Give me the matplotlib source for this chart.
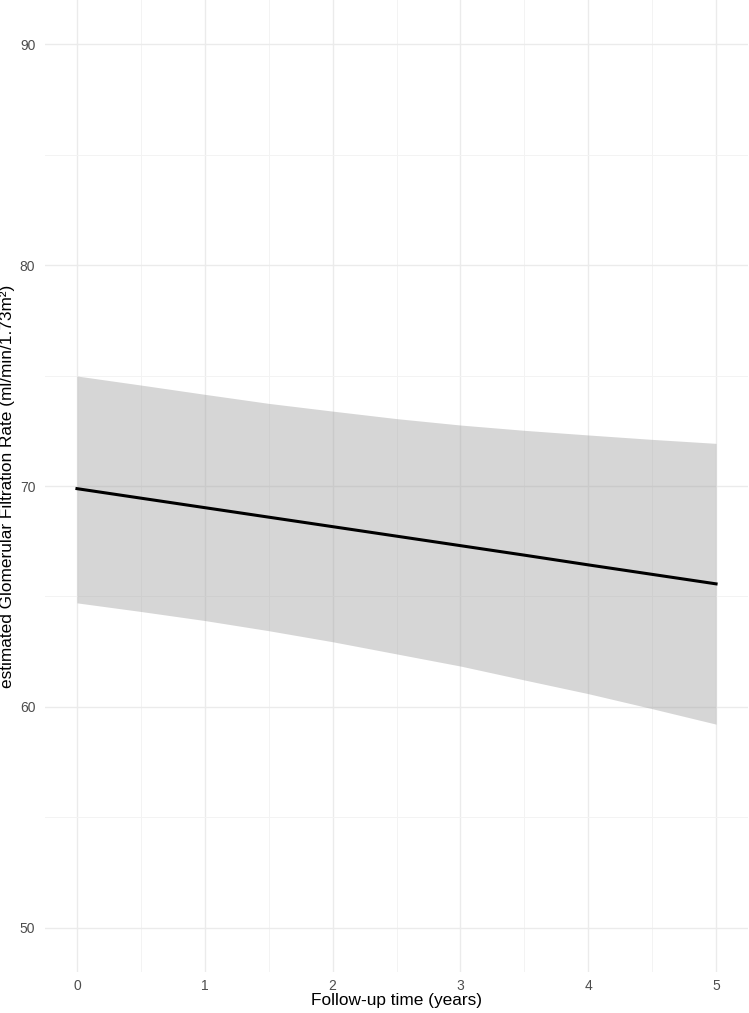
import matplotlib
matplotlib.use("Agg")
import matplotlib.pyplot as plt
import numpy as np

# --- data ---
years = [0, 0.5, 1, 1.5, 2, 2.5, 3, 3.5, 4, 4.5, 5]
egfr_fit = [69.88, 69.45, 69.02, 68.59, 68.16, 67.73, 67.30, 66.87, 66.43, 66.00, 65.57]
egfr_upper = [74.98, 74.57, 74.15, 73.74, 73.39, 73.05, 72.76, 72.52, 72.31, 72.11, 71.93]
egfr_lower = [64.71, 64.32, 63.91, 63.45, 62.95, 62.40, 61.85, 61.22, 60.60, 59.92, 59.22]

x_ticks = [0, 1, 2, 3, 4, 5]
y_ticks = [50, 60, 70, 80, 90]

plt.rcParams["font.family"] = ["Liberation Sans", "DejaVu Sans"]

fig = plt.figure(figsize=(7.49, 10.13), dpi=100)
ax = fig.add_axes([45 / 749, 41 / 1013, 703 / 749, 972 / 1013])

# --- theme_minimal-ish grid ---
ax.set_xlim(-0.25, 5.25)
ax.set_ylim(48, 92)
ax.set_xticks(x_ticks)
ax.set_yticks(y_ticks)
ax.set_xticks(np.arange(0.5, 5, 1), minor=True)
ax.set_yticks([55, 65, 75, 85], minor=True)
ax.grid(which="major", color="#ebebeb", linewidth=1.0)
ax.grid(which="minor", color="#f3f3f3", linewidth=0.7)
ax.set_axisbelow(True)
for s in ax.spines.values():
    s.set_visible(False)
ax.tick_params(which="both", length=0)
ax.tick_params(axis="both", labelsize=10, labelcolor="#4d4d4d")
ax.tick_params(axis="x", pad=5)
ax.tick_params(axis="y", pad=7)

# --- ribbon + fitted line ---
ax.fill_between(years, egfr_lower, egfr_upper, color="#999999", alpha=0.4,
                linewidth=0, zorder=2)
ax.plot(years, egfr_fit, color="black", linewidth=2.2, zorder=3)

ax.set_xlabel("Follow-up time (years)", fontsize=12.4, va="center")
ax.xaxis.set_label_coords(0.5, -28 / 972)
ax.set_ylabel("estimated Glomerular Filtration Rate (ml/min/1.73m²)", fontsize=12.4, va="center")
ax.yaxis.set_label_coords(-37 / 703, 0.5)

fig.savefig("out.png", dpi=100)
